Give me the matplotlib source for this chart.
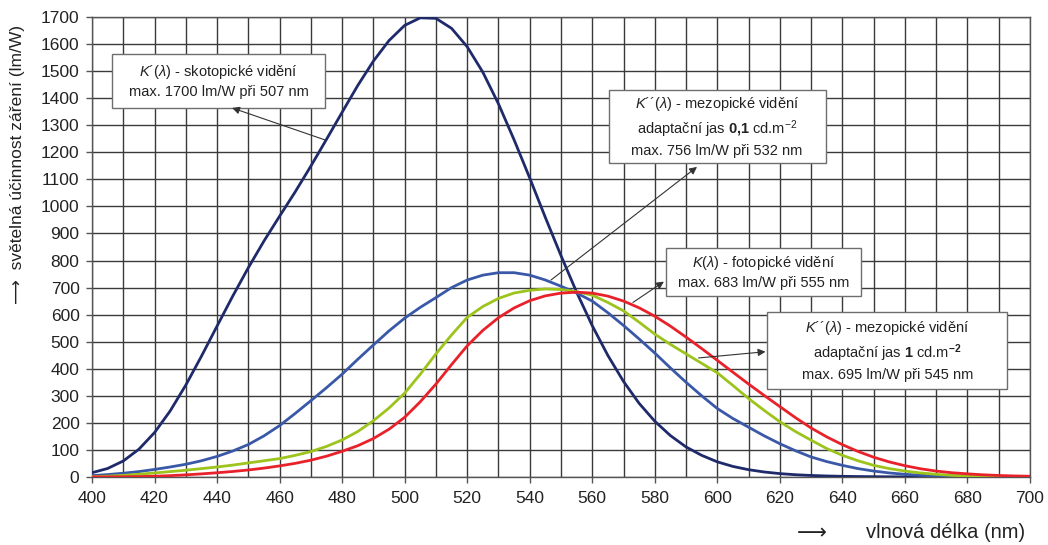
import matplotlib
matplotlib.use('Agg')
import matplotlib.pyplot as plt
from matplotlib.patches import Rectangle

# ---------------- data ----------------
wavelength_nm = list(range(400, 701, 5))

# K'(lambda) scotopic vision, lm/W
scotopic = [15.8, 31.5, 59.2, 102.7, 164.2, 244.1, 339.7, 446.3, 557.8, 668.3,
            773.5, 872.1, 963.9, 1054, 1149, 1248, 1348, 1447, 1537, 1613,
            1669, 1697, 1695, 1658, 1590, 1496, 1379, 1246, 1105, 959,
            818, 683, 559, 449, 353, 272, 206, 153, 111, 80,
            56, 39, 27, 18.5, 12.5, 8.4, 5.7, 3.8, 2.5, 1.7,
            1.15, 0.78, 0.53, 0.37, 0.25, 0.17, 0.12, 0.085, 0.06, 0.04, 0.03]

# K''(lambda) mesopic vision, adaptation luminance 0.1 cd/m2
mesopic_01 = [5, 9, 14, 20, 28, 37, 47, 60, 76, 96,
              120, 152, 190, 235, 282, 330, 380, 435, 488, 540,
              587, 627, 663, 700, 728, 746, 755, 755, 746, 728,
              705, 680, 650, 607, 560, 510, 458, 403, 350, 300,
              253, 216, 184, 152, 123, 97, 74, 57, 43, 31,
              22, 15, 10, 6.5, 4, 2.5, 1.5, 1, 0.5, 0.3, 0.2]

# K''(lambda) mesopic vision, adaptation luminance 1 cd/m2
mesopic_1 = [1, 3, 6, 10, 15, 20, 25, 31, 37, 44,
             52, 60, 68, 80, 94, 113, 137, 168, 208, 255,
             310, 380, 455, 525, 590, 630, 660, 680, 690, 695,
             693, 685, 672, 645, 614, 572, 528, 490, 455, 420,
             385, 338, 290, 246, 204, 168, 136, 105, 80, 60,
             43, 31, 22, 15, 10, 6, 4, 2.5, 1.5, 1, 0.5]

# K(lambda) photopic vision, lm/W
photopic = [0.27, 0.44, 0.82, 1.49, 2.73, 4.99, 7.92, 11.5, 15.7, 20.4,
            26.0, 32.8, 41.0, 50.5, 62.1, 76.9, 95.0, 115.6, 142.1, 176.6,
            220.6, 278.2, 343.5, 415.4, 484.9, 541.8, 588.7, 624.8, 651.6, 669.5,
            679.6, 683.0, 679.6, 668.4, 650.2, 625.2, 594.2, 557.5, 517.0, 474.6,
            431.0, 387.1, 343.5, 301.3, 260.2, 219.2, 181.0, 148.2, 119.5, 94.4,
            73.1, 55.7, 41.7, 30.4, 21.9, 15.8, 11.6, 8.1, 5.6, 3.9, 2.8]

x_major_ticks = list(range(400, 701, 20))
x_minor_ticks = list(range(410, 700, 20))
y_ticks = list(range(0, 1701, 100))

label_scot = r"$K$´($\lambda$) - skotopické vidění" + "\n" + "max. 1700 lm/W při 507 nm"
label_mes01 = (r"$K$´´($\lambda$) - mezopické vidění" + "\n"
               + r"adaptační jas $\mathbf{0{,}1}$ cd.m$^{-2}$" + "\n"
               + "max. 756 lm/W při 532 nm")
label_phot = r"$K$($\lambda$) - fotopické vidění" + "\n" + "max. 683 lm/W při 555 nm"
label_mes1 = (r"$K$´´($\lambda$) - mezopické vidění" + "\n"
              + r"adaptační jas $\mathbf{1}$ cd.m$^{\mathbf{-2}}$" + "\n"
              + "max. 695 lm/W při 545 nm")

# ---------------- style ----------------
plt.rcParams['font.family'] = ['Liberation Sans', 'DejaVu Sans']
plt.rcParams['mathtext.fontset'] = 'custom'
plt.rcParams['mathtext.rm'] = 'Liberation Sans'
plt.rcParams['mathtext.it'] = 'Liberation Sans:italic'
plt.rcParams['mathtext.bf'] = 'Liberation Sans:bold'

fig = plt.figure(figsize=(10.48, 5.45), dpi=100)
ax = fig.add_axes([92 / 1048, 1 - 477 / 545, (1030 - 92) / 1048, (477 - 17) / 545])

ax.set_xlim(400, 700)
ax.set_ylim(0, 1700)
ax.set_xticks(x_major_ticks)
ax.set_xticks(x_minor_ticks, minor=True)
ax.set_yticks(y_ticks)
ax.grid(True, which='both', color='#3a3a3a', lw=1.0, zorder=0)
ax.set_axisbelow(True)
ax.tick_params(axis='both', which='major', labelsize=12.5, direction='out',
               length=4, width=1, color='#555555', labelcolor='#222222')
ax.tick_params(axis='x', which='major', pad=6)
ax.tick_params(axis='y', which='major', pad=5)
ax.tick_params(axis='x', which='minor', length=0)
for sp in ax.spines.values():
    sp.set_color('#555555')
    sp.set_linewidth(1.0)

lw = 2.0
ax.plot(wavelength_nm, scotopic, color='#1f2a6b', lw=lw, zorder=3)
ax.plot(wavelength_nm, mesopic_01, color='#3a58a8', lw=lw, zorder=3)
ax.plot(wavelength_nm, mesopic_1, color='#9dc41c', lw=lw, zorder=3)
ax.plot(wavelength_nm, photopic, color='#e8212b', lw=lw, zorder=3)

# ---------------- annotation boxes ----------------
boxes = [
    (406.4, 474.5, 1364, 1563, label_scot),
    (565.3, 634.6, 1159, 1430, label_mes01),
    (583.5, 646.1, 669, 845, label_phot),
    (616.0, 692.7, 324, 611, label_mes1),
]
for x0, x1, y0, y1, txt in boxes:
    ax.add_patch(Rectangle((x0, y0), x1 - x0, y1 - y0, facecolor='white',
                           edgecolor='#6e6e6e', lw=1.0, zorder=5))
    ax.text((x0 + x1) / 2, (y0 + y1) / 2, txt, ha='center', va='center',
            fontsize=10.5, color='#222222', linespacing=1.35, zorder=6,
            multialignment='center')

arrows = [
    ((444.8, 1364), (474.7, 1245)),
    ((593.5, 1146), (546.8, 728)),
    ((582.9, 722), (573.0, 645)),
    ((615.4, 463), (594.0, 440)),
]
for head, tail in arrows:
    ax.annotate('', xy=head, xytext=tail,
                arrowprops=dict(arrowstyle='-|>', color='#333333', lw=0.8,
                                mutation_scale=11, shrinkA=0, shrinkB=0),
                zorder=7)

# ---------------- axis labels ----------------
fig.text(18 / 1048, 1 - 164 / 545, "⟶  světelná účinnost záření (lm/W)",
         rotation=90, ha='center', va='center', fontsize=12.5, color='#222222',
         family=['Liberation Sans', 'DejaVu Sans'])
fig.text(812 / 1048, 1 - 533 / 545, "⟶", ha='center', va='center',
         fontsize=15, color='#222222', family=['DejaVu Sans'])
fig.text(866 / 1048, 1 - 533 / 545, "vlnová délka (nm)",
         ha='left', va='center', fontsize=14.5, color='#222222',
         family=['Liberation Sans', 'DejaVu Sans'])

fig.savefig('out.png', dpi=100, facecolor='white')
